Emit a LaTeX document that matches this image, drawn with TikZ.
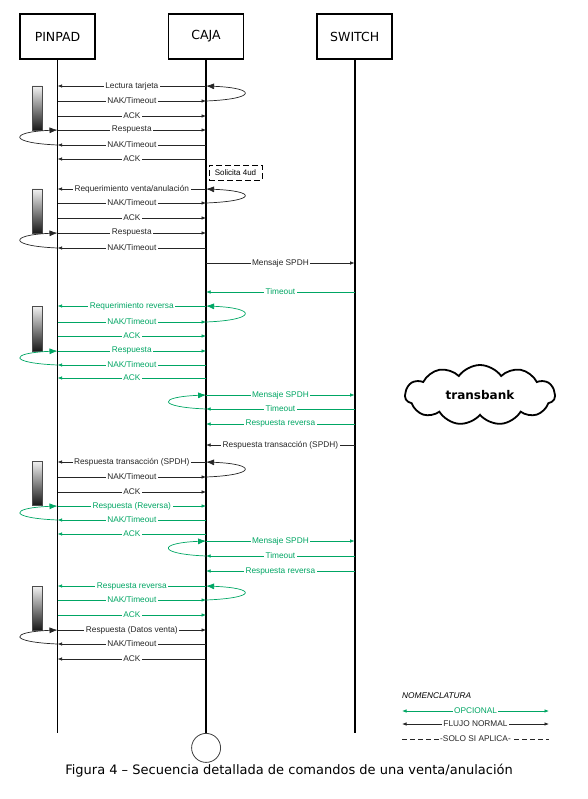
\documentclass[tikz,border=0pt]{standalone}
\usepackage{fontspec}
\setmainfont{Liberation Sans}
\newfontfamily\headfont{DejaVu Sans}
\usetikzlibrary{arrows.meta, positioning, shapes.symbols}
\definecolor{optgreen}{RGB}{0,166,100}

% message: style, row, from, to, label
\newcommand{\msg}[5]{\draw[msg,#1] (#3 |- r#2) -- (#4 |- r#2) node[lbl, midway] {#5};}
% retry loop: style, lifeline, from row, to row, bulge
\newcommand{\retry}[5]{\draw[retry,#1] (#2 |- r#3) .. controls +(#5,-2) and +(#5,2) .. (#2 |- r#4);}

\begin{document}
\begin{tikzpicture}[
        x=1pt, y=-1pt,
        node distance=72pt,
        >={Latex[length=4.5pt,width=3.5pt]},
        head/.style={draw, line width=1.6pt, minimum width=75pt, minimum height=45pt, inner sep=0pt, font=\headfont\fontsize{12.5}{14}\selectfont},
        life/.style={line width=1.8pt},
        msg/.style={->, line width=0.7pt, black!85},
        opc/.style={optgreen},
        lbl/.style={fill=white, inner xsep=1.5pt, inner ysep=0.5pt, font=\fontsize{8.3}{9}\selectfont},
        retry/.style={-{Latex[length=8pt,width=6pt]}, line width=0.7pt, black!85},
        bar/.style={top color=gray!10, bottom color=black!90, draw=black!70, line width=0.6pt}
    ]
    \useasboundingbox (0,0) rectangle (587,799);

    % Nodes
    \node[head] (pinpad) at (57.5,36.5) {PINPAD};
    \node[head, right=of pinpad] (caja) {CAJA};
    \node[head, right=of caja] (switch) {SWITCH};

    \coordinate (fondo) at (0,733);
    \node[draw=black!75, circle, line width=0.8pt, minimum size=29pt, anchor=north] (fin) at (caja |- fondo) {};

    % Lifelines
    \draw[life] (pinpad) -- (pinpad |- fondo);
    \draw[life] (caja) -- (fin);
    \draw[life] (switch) -- (switch |- fondo);

    % Rows
    \foreach \n/\y in {1/86, 2/101, 3/116, 4/130, 5/145, 6/159, 7/189, 8/203, 9/218, 10/233,
        11/248, 12/263, 13/292, 14/306, 15/322, 16/336, 17/351, 18/365, 19/378, 20/395,
        21/409, 22/424, 23/445, 24/462, 25/477, 26/492, 27/506, 28/520, 29/534, 30/541,
        31/556, 32/571, 33/586, 34/600, 35/615, 36/630, 37/644, 38/659}
        \coordinate (r\n) at (0,\y);

    % Buffers
    \foreach \ya/\yb in {86/130, 189/233, 306/351, 461/505, 586/630}
        \draw[bar] (32,\ya) rectangle (42,\yb);

    % Lectura tarjeta
    \msg{}{1}{caja}{pinpad}{Lectura tarjeta}
    \msg{}{2}{pinpad}{caja}{NAK/Timeout}
    \msg{}{3}{pinpad}{caja}{ACK}
    \msg{}{4}{pinpad}{caja}{Respuesta}
    \msg{}{5}{caja}{pinpad}{NAK/Timeout}
    \msg{}{6}{caja}{pinpad}{ACK}
    \retry{}{caja}{2}{1}{51}
    \retry{}{pinpad}{5}{4}{-49}

    \node[draw, dash pattern=on 6pt off 3pt, line width=0.8pt, minimum width=53pt, minimum height=15pt, inner sep=0pt, font=\fontsize{8}{9}\selectfont] (solicita) at (235.5,172.5) {Solicita 4ud};

    % Requerimiento venta
    \msg{}{7}{caja}{pinpad}{Requerimiento venta/anulación}
    \msg{}{8}{pinpad}{caja}{NAK/Timeout}
    \msg{}{9}{pinpad}{caja}{ACK}
    \msg{}{10}{pinpad}{caja}{Respuesta}
    \msg{}{11}{caja}{pinpad}{NAK/Timeout}
    \retry{}{caja}{8}{7}{51}
    \retry{}{pinpad}{11}{10}{-49}
    \msg{}{12}{caja}{switch}{Mensaje SPDH}

    % Reversa
    \msg{opc}{13}{switch}{caja}{Timeout}
    \msg{opc}{14}{caja}{pinpad}{Requerimiento reversa}
    \msg{opc}{15}{pinpad}{caja}{NAK/Timeout}
    \msg{opc}{16}{pinpad}{caja}{ACK}
    \msg{opc}{17}{pinpad}{caja}{Respuesta}
    \msg{opc}{18}{caja}{pinpad}{NAK/Timeout}
    \msg{opc}{19}{caja}{pinpad}{ACK}
    \retry{opc}{caja}{15}{14}{51}
    \retry{opc}{pinpad}{18}{17}{-49}
    \msg{opc}{20}{caja}{switch}{Mensaje SPDH}
    \msg{opc}{21}{switch}{caja}{Timeout}
    \msg{opc}{22}{switch}{caja}{Respuesta reversa}
    \retry{opc}{caja}{21}{20}{-49}

    % Respuesta transaccion
    \msg{}{23}{switch}{caja}{Respuesta transacción (SPDH)}
    \msg{}{24}{caja}{pinpad}{Respuesta transacción (SPDH)}
    \msg{}{25}{pinpad}{caja}{NAK/Timeout}
    \msg{}{26}{pinpad}{caja}{ACK}
    \retry{}{caja}{25}{24}{51}
    \msg{opc}{27}{pinpad}{caja}{Respuesta (Reversa)}
    \msg{opc}{28}{caja}{pinpad}{NAK/Timeout}
    \msg{opc}{29}{caja}{pinpad}{ACK}
    \retry{opc}{pinpad}{28}{27}{-49}
    \msg{opc}{30}{caja}{switch}{Mensaje SPDH}
    \msg{opc}{31}{switch}{caja}{Timeout}
    \msg{opc}{32}{switch}{caja}{Respuesta reversa}
    \retry{opc}{caja}{31}{30}{-49}
    \msg{opc}{33}{caja}{pinpad}{Respuesta reversa}
    \msg{opc}{34}{pinpad}{caja}{NAK/Timeout}
    \msg{opc}{35}{pinpad}{caja}{ACK}
    \retry{opc}{caja}{34}{33}{51}

    % Datos venta
    \msg{}{36}{pinpad}{caja}{Respuesta (Datos venta)}
    \msg{}{37}{caja}{pinpad}{NAK/Timeout}
    \msg{}{38}{caja}{pinpad}{ACK}
    \retry{}{pinpad}{37}{36}{-49}

    % Transbank
    \node[cloud, draw, line width=1.8pt, cloud puffs=11, cloud puff arc=110, cloud ignores aspect,
        minimum width=150pt, minimum height=60pt, font=\headfont\bfseries\fontsize{12}{14}\selectfont] (tbk) at (480,395) {transbank};

    % Legend
    \node[anchor=west, inner sep=0pt, font=\itshape\fontsize{8.3}{9}\selectfont] (nomen) at (402,696) {NOMENCLATURA};
    \coordinate (la) at (402,711); \coordinate (lb) at (549,711);
    \coordinate (lc) at (402,724); \coordinate (ld) at (549,724);
    \coordinate (le) at (402,739); \coordinate (lf) at (549,739);
    \draw[msg, opc, <->] (la) -- (lb) node[lbl, midway] {OPCIONAL};
    \draw[msg, <->] (lc) -- (ld) node[lbl, midway] {FLUJO NORMAL};
    \draw[msg, -, dash pattern=on 5pt off 3pt] (le) -- (lf) node[lbl, midway] {-SOLO SI APLICA-};

    % Caption
    \node[font=\headfont\fontsize{13}{15}\selectfont] (caption) at (289,771) {Figura 4 – Secuencia detallada de comandos de una venta/anulación};
\end{tikzpicture}
\end{document}
